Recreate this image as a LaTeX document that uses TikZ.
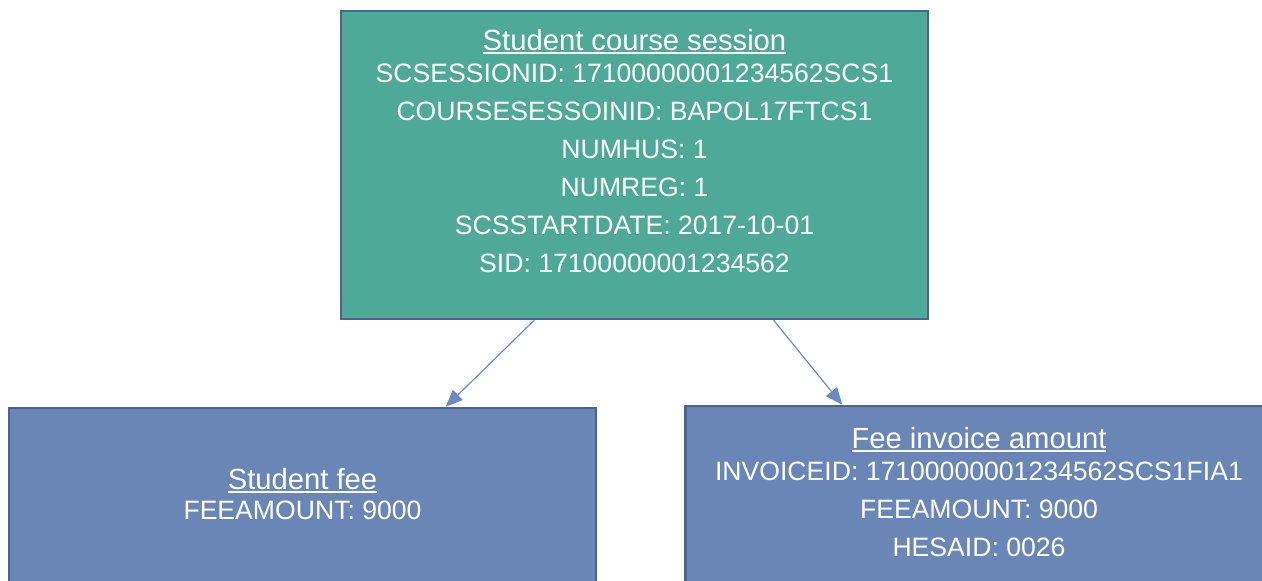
\documentclass[tikz,border=0pt]{standalone}
\usepackage{fontspec}
\setmainfont{Liberation Sans}
\usetikzlibrary{arrows.meta,calc}

\definecolor{sessionteal}{HTML}{4EA999}
\definecolor{feeblue}{HTML}{6A86B7}
\definecolor{edgeslate}{HTML}{4B6390}
\definecolor{flowblue}{HTML}{6C8BC4}

% underlined heading, a bit larger than the fields
\newcommand{\headul}[1]{\setbox0\hbox{\fontsize{14.6pt}{16pt}\selectfont #1}\rlap{\rule[-1.8pt]{\wd0}{0.9pt}}\box0}

\tikzset{
  entity/.style={draw=edgeslate, line width=1.2pt, rectangle, minimum width=293.5pt},
  entitytext/.style={text=white, align=center, inner sep=0pt, anchor=north,
    font=\fontsize{13.3pt}{16pt}\selectfont},
  flow/.style={draw=flowblue, line width=0.6pt, -{Triangle[length=8.5pt,width=7pt]}}
}

\begin{document}
\begin{tikzpicture}[x=0.5pt, y=-0.5pt]
  \useasboundingbox (0,0) rectangle (1262,581);
  \clip (0,0) rectangle (1262,581);
  \node[entity, fill=sessionteal, minimum height=154pt] (session) at (634.5,165) {};
  \node[entity, fill=feeblue, minimum height=126pt] (fee) at (302.5,534) {};
  \node[entity, fill=feeblue, minimum height=127pt] (invoice) at (979,533) {};

  \node[entitytext] (sessiontext) at (634.5,29) {\headul{Student course session}\\
    SCSESSIONID: 17100000001234562SCS1\\[3pt]
    COURSESESSOINID: BAPOL17FTCS1\\[3pt]
    NUMHUS: 1\\[3pt]
    NUMREG: 1\\[3pt]
    SCSSTARTDATE: 2017-10-01\\[3pt]
    SID: 17100000001234562};
  \node[entitytext] (feetext) at (302.5,468) {\headul{Student fee}\\[-1pt]
    FEEAMOUNT: 9000};
  \node[entitytext] (invoicetext) at (979,427) {\headul{Fee invoice amount}\\
    INVOICEID: 17100000001234562SCS1FIA1\\[3pt]
    FEEAMOUNT: 9000\\[3pt]
    HESAID: 0026};

  \coordinate (s1) at ($(session.south west)!0.33!(session.south east)$);
  \coordinate (s2) at ($(session.south west)!0.736!(session.south east)$);
  \coordinate (f1) at ($(fee.north west)!0.743!(fee.north east)$);
  \coordinate (i1) at ($(invoice.north west)!0.268!(invoice.north east)$);
  \draw[flow] (s1) -- (f1);
  \draw[flow] (s2) -- (i1);
\end{tikzpicture}
\end{document}
